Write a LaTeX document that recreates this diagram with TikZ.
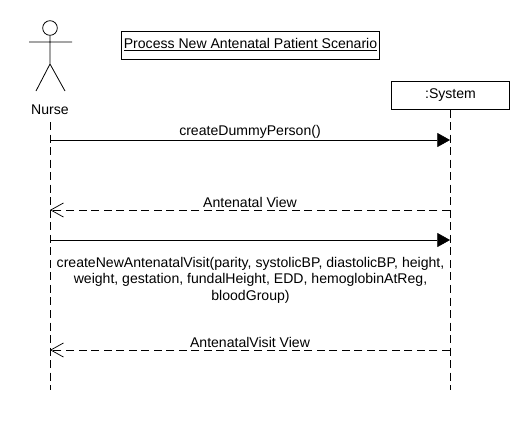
\documentclass[tikz,border=0pt]{standalone}
\usepackage{fontspec}
\setmainfont{Liberation Sans}
\usetikzlibrary{arrows.meta}
\tikzset{
  x=0.75pt,y=-0.75pt,
  line width=0.75pt,
  txt/.style={inner sep=0pt,align=center,font=\fontsize{10.55pt}{12.4pt}\selectfont},
  boxed/.style={draw,line width=0.75pt,minimum height=21pt,inner sep=0pt,anchor=center,txt},
  lifeline/.style={dash pattern=on 6pt off 3.4pt,line width=0.7pt},
  sync/.style={-{Triangle[length=9.5pt,width=10.5pt]}},
  reply/.style={dash pattern=on 6pt off 3.4pt,-{Straight Barb[length=9.5pt,width=10.5pt,line width=0.55pt]}},
}
\begin{document}
\begin{tikzpicture}
\useasboundingbox (0,0) rectangle (530,430);
\fill[white] (0,0) rectangle (530,430);
% title
\node[boxed,minimum width=194pt] (title) at (250.5,45) {\underline{Process New Antenatal Patient Scenario}};
% system
\node[boxed,minimum width=88pt] (system) at (450.5,95) {:System};
% actor
\node[draw,circle,minimum size=11pt,inner sep=0pt,line width=0.6pt] (head) at (50,28) {};
\coordinate (neck) at (50,64);
\coordinate (armL) at (29,42);
\coordinate (armR) at (72,42);
\coordinate (legL) at (36,91);
\coordinate (legR) at (65,91);
\draw[line width=0.6pt] (head.south) -- (neck) (armL) -- (armR) (legL) -- (neck) -- (legR);
\node[txt] (nurse) at (50,109.5) {Nurse};
% lifelines
\coordinate (nurseTop) at (50,122);
\coordinate (nurseEnd) at (50,390);
\coordinate (sysEnd) at (450,390);
\draw[lifeline] (nurseTop) -- (nurseEnd);
\draw[lifeline] (system.south -| sysEnd) -- (sysEnd);
% message anchors
\coordinate (n1) at (50,140); \coordinate (s1) at (450,140);
\coordinate (n2) at (50,210); \coordinate (s2) at (450,210);
\coordinate (n3) at (50,240); \coordinate (s3) at (450,240);
\coordinate (n4) at (50,350); \coordinate (s4) at (450,350);
\draw[sync] (n1) -- (s1);
\draw[reply] (s2) -- (n2);
\draw[sync] (n3) -- (s3);
\draw[reply] (s4) -- (n4);
\node[txt] (m1) at (250,132) {createDummyPerson()};
\node[txt] (m2) at (250,202) {Antenatal View};
\node[txt] (m3) at (250.5,280) {createNewAntenatalVisit(parity, systolicBP, diastolicBP, height,\\weight, gestation, fundalHeight, EDD, hemoglobinAtReg,\\bloodGroup)};
\node[txt] (m4) at (250,342) {AntenatalVisit View};
\end{tikzpicture}
\end{document}
